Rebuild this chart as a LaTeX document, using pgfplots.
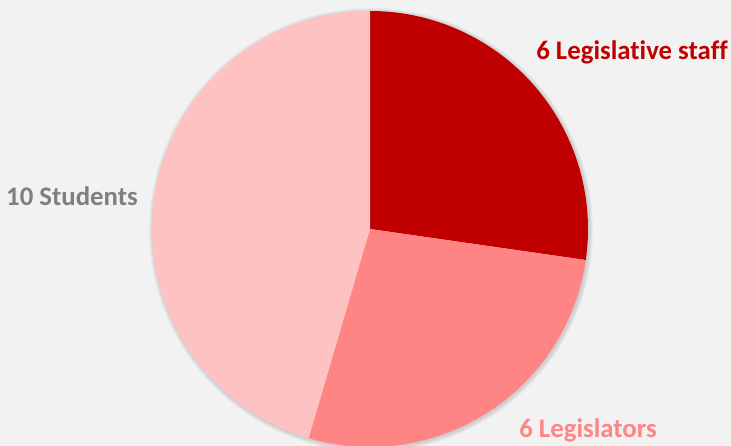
\documentclass[border=0pt]{standalone}
\usepackage{pgfplots}
\pgfplotsset{compat=1.18}
\usepackage{pgfplotstable}
\usepackage{fontspec}
\setmainfont[Ligatures=NoCommon]{Carlito}
\definecolor{bg}{HTML}{F2F2F2}
\definecolor{cA}{HTML}{C00000}
\definecolor{cB}{HTML}{FF8585}
\definecolor{cC}{HTML}{FFC2C2}
\definecolor{lab}{HTML}{7F7F7F}
\pgfplotstableread{
value
6
6
10
}\piedata
\begin{document}
\begin{tikzpicture}
\pgfplotstablegetelem{0}{value}\of\piedata \let\va\pgfplotsretval
\pgfplotstablegetelem{1}{value}\of\piedata \let\vb\pgfplotsretval
\pgfplotstablegetelem{2}{value}\of\piedata \let\vc\pgfplotsretval
\pgfmathsetmacro{\tot}{\va+\vb+\vc}
\pgfmathsetmacro{\aA}{90-360*\va/\tot}
\pgfmathsetmacro{\aB}{\aA-360*\vb/\tot}
\begin{axis}[x=1pt,y=1pt,scale only axis,xmin=0,xmax=731,ymin=0,ymax=446,hide axis,clip=true]
\fill[bg] (axis cs:0,0) rectangle (axis cs:731,446);
\pgfplotsinvokeforeach{1,2,3,4,5,6}{\fill[black,opacity=0.025] (axis cs:371,216) circle[radius={218pt+#1*0.7pt}];}
\fill[cA] (axis cs:370,217) -- ++(90:218pt) arc[start angle=90,end angle=\aA,radius=218pt] -- cycle;
\fill[cB] (axis cs:370,217) -- ++(\aA:218pt) arc[start angle=\aA,end angle=\aB,radius=218pt] -- cycle;
\fill[cC] (axis cs:370,217) -- ++(\aB:218pt) arc[start angle=\aB,end angle=-270,radius=218pt] -- cycle;
\node[text=cA,font=\fontsize{26.8}{30}\selectfont\bfseries,inner sep=0pt] at (axis cs:632,394) {6 Legislative staff};
\node[text=lab,font=\fontsize{26.8}{30}\selectfont\bfseries,inner sep=0pt] at (axis cs:72,250) {10 Students};
\node[text=cB,font=\fontsize{26.8}{30}\selectfont\bfseries,inner sep=0pt] at (axis cs:588,16) {6 Legislators};
\end{axis}
\end{tikzpicture}
\end{document}
